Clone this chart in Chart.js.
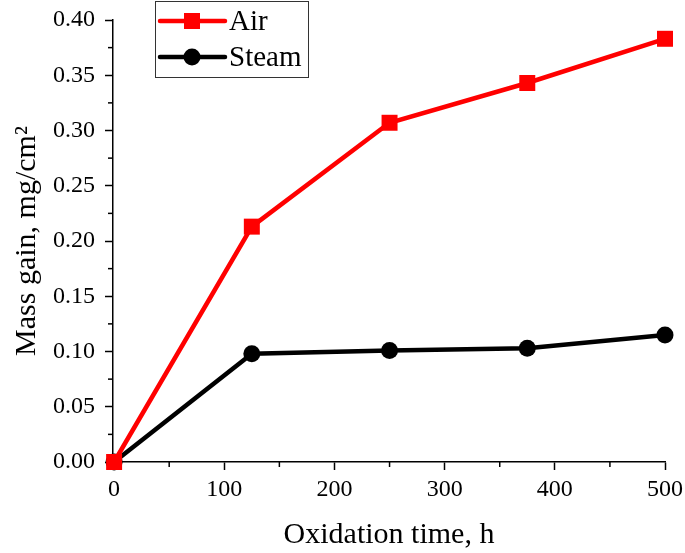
<!DOCTYPE html>
<html>
<head>
<meta charset="utf-8">
<script src="https://cdn.jsdelivr.net/npm/chart.js@4.4.0/dist/chart.umd.min.js"></script>
<style>
  body { margin: 0; background: #fff; }
  #wrap { width: 685px; height: 553px; }
</style>
</head>
<body>
<div id="wrap"><canvas id="massChart" width="685" height="553"></canvas></div>
<script>
// Data
const times = [0, 125, 250, 375, 500];
const airGain = [0, 0.213, 0.307, 0.343, 0.383];
const steamGain = [0, 0.098, 0.101, 0.103, 0.115];
const xTicks = [0, 100, 200, 300, 400, 500];
const yTicks = [0, 0.05, 0.10, 0.15, 0.20, 0.25, 0.30, 0.35, 0.40];

const serif = "'Liberation Serif', 'Times New Roman', serif";

// Minor ticks halfway between the major ones (Origin style)
const minorTicks = {
    id: 'minorTicks',
    afterDraw(chart) {
        const c = chart.ctx;
        const xs = chart.scales.x;
        const ys = chart.scales.y;
        c.save();
        c.strokeStyle = '#000';
        c.lineWidth = 1.5;
        for (let i = 0; i < xTicks.length - 1; i++) {
            const px = xs.getPixelForValue((xTicks[i] + xTicks[i + 1]) / 2);
            c.beginPath();
            c.moveTo(px, ys.bottom);
            c.lineTo(px, ys.bottom + 5);
            c.stroke();
        }
        for (let i = 0; i < yTicks.length - 1; i++) {
            const py = ys.getPixelForValue((yTicks[i] + yTicks[i + 1]) / 2);
            c.beginPath();
            c.moveTo(xs.left, py);
            c.lineTo(xs.left - 5, py);
            c.stroke();
        }
        c.restore();
    }
};

// Boxed legend with line + marker, drawn inside the plot
const boxLegend = {
    id: 'boxLegend',
    afterDraw(chart) {
        const c = chart.ctx;
        const x0 = 155, y0 = 1, w = 153, h = 76;
        c.save();
        c.fillStyle = '#fff';
        c.fillRect(x0, y0, w, h);
        c.strokeStyle = '#333';
        c.lineWidth = 1;
        c.strokeRect(x0 + 0.5, y0 + 0.5, w, h);
        chart.data.datasets.forEach((ds, i) => {
            const cy = y0 + 20 + i * 36;
            c.strokeStyle = ds.borderColor;
            c.lineWidth = 4.5;
            c.lineCap = 'round';
            c.beginPath();
            c.moveTo(x0 + 5, cy);
            c.lineTo(x0 + 70, cy);
            c.stroke();
            c.fillStyle = ds.backgroundColor;
            const mx = x0 + 37;
            if (ds.pointStyle === 'rect') {
                c.fillRect(mx - 8, cy - 8, 16, 16);
            } else {
                c.beginPath();
                c.arc(mx, cy, 8.5, 0, Math.PI * 2);
                c.fill();
            }
            c.fillStyle = '#000';
            c.font = '29px ' + serif;
            c.textBaseline = 'middle';
            c.fillText(ds.label, x0 + 74, cy + 1);
        });
        c.restore();
    }
};

const ctx = document.getElementById('massChart').getContext('2d');
new Chart(ctx, {
    type: 'line',
    data: {
        datasets: [
            {
                label: 'Air',
                data: times.map((t, i) => ({ x: t, y: airGain[i] })),
                borderColor: '#ff0000',
                backgroundColor: '#ff0000',
                borderWidth: 4.5,
                pointStyle: 'rect',
                pointRadius: 11.3,
                pointBorderWidth: 0,
                clip: false
            },
            {
                label: 'Steam',
                data: times.map((t, i) => ({ x: t, y: steamGain[i] })),
                borderColor: '#000000',
                backgroundColor: '#000000',
                borderWidth: 4.5,
                pointStyle: 'circle',
                pointRadius: 8.5,
                pointBorderWidth: 0,
                clip: false
            }
        ]
    },
    options: {
        responsive: false,
        animation: false,
        layout: { padding: { left: 0, top: 20, right: 20, bottom: 0 } },
        plugins: {
            legend: { display: false },
            tooltip: { enabled: false }
        },
        scales: {
            x: {
                type: 'linear',
                min: -1,
                max: 500,
                afterBuildTicks: (s) => { s.ticks = xTicks.map(v => ({ value: v })); },
                afterFit: (s) => { s.height = 91; s.paddingLeft = 0; s.paddingRight = 0; },
                grid: { drawOnChartArea: false, drawTicks: true, tickLength: 8, tickColor: '#000', tickWidth: 1.5 },
                border: { display: true, color: '#000', width: 1.5 },
                ticks: { color: '#000', font: { family: serif, size: 24 }, padding: 5, maxRotation: 0 },
                title: { display: true, text: 'Oxidation time, h', color: '#000', font: { family: serif, size: 30 }, padding: { top: 0, bottom: 0 } }
            },
            y: {
                min: 0,
                max: 0.40,
                afterBuildTicks: (s) => { s.ticks = yTicks.map(v => ({ value: v })); },
                afterFit: (s) => { s.width = 113; s.paddingTop = 0; s.paddingBottom = 0; },
                grid: { drawOnChartArea: false, drawTicks: true, tickLength: 8, tickColor: '#000', tickWidth: 1.5 },
                border: { display: true, color: '#000', width: 1.5 },
                ticks: { color: '#000', font: { family: serif, size: 24 }, padding: 10, callback: (v) => Number(v).toFixed(2) },
                title: { display: true, text: 'Mass gain, mg/cm²', color: '#000', font: { family: serif, size: 30 }, padding: { top: 9, bottom: 0 } }
            }
        }
    },
    plugins: [minorTicks, boxLegend]
});
</script>
</body>
</html>
